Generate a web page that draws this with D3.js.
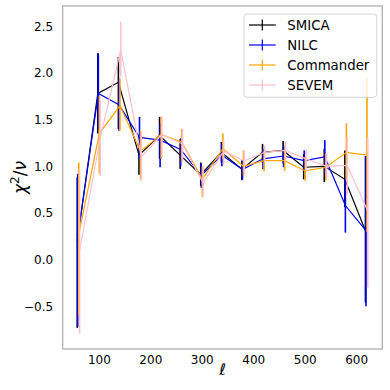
<!DOCTYPE html>
<html><head><meta charset="utf-8">
<script src="https://cdn.jsdelivr.net/npm/d3@7"></script>
<style>body{margin:0;background:#fff}svg{display:block}text{font-family:"DejaVu Sans",sans-serif}</style>
</head><body><svg id="c" width="390" height="390"></svg>
<script>
const ell = [58, 98, 138, 178, 218, 258, 298, 338, 378, 418, 458, 498, 538, 578, 618];
const seriesNames = ["SMICA", "NILC", "Commander", "SEVEM"];
const seriesColors = ["#000000", "#0000ff", "#ffa500", "#ffc0cb"];
const ellOffset = [0, 1, 3, 4.5];
const smicaVal = [0.20, 1.78, 1.90, 1.12, 1.33, 1.12, 0.91, 1.15, 0.97, 1.15, 1.17, 0.99, 1.00, 0.86, 0.31];
const smicaLo  = [-0.73, 1.35, 1.40, 0.91, 1.08, 0.97, 0.79, 1.04, 0.85, 1.04, 1.03, 0.86, 0.83, 0.56, -0.46];
const smicaHi  = [0.88, 2.21, 2.17, 1.33, 1.53, 1.29, 1.04, 1.26, 1.06, 1.24, 1.27, 1.13, 1.19, 1.17, 1.11];
const nilcVal  = [0.24, 1.78, 1.66, 1.31, 1.28, 1.18, 0.90, 1.12, 0.965, 1.08, 1.11, 1.06, 1.10, 0.58, 0.31];
const nilcLo   = [-0.72, 1.40, 1.38, 1.08, 0.99, 1.00, 0.77, 1.00, 0.86, 0.97, 0.99, 0.95, 0.92, 0.29, -0.50];
const nilcHi   = [0.92, 2.21, 1.94, 1.53, 1.46, 1.30, 1.03, 1.24, 1.07, 1.18, 1.22, 1.17, 1.28, 0.87, 1.11];
const cmdVal   = [0.27, 1.35, 1.65, 1.16, 1.34, 1.26, 0.86, 1.19, 1.00, 1.06, 1.06, 0.95, 0.99, 1.15, 1.12];
const cmdLo    = [-0.59, 0.92, 1.38, 0.86, 1.08, 1.05, 0.67, 1.08, 0.90, 0.95, 0.95, 0.845, 0.85, 0.85, 0.30];
const cmdHi    = [1.04, 1.75, 1.94, 1.38, 1.53, 1.40, 1.00, 1.35, 1.17, 1.17, 1.18, 1.10, 1.14, 1.46, 1.94];
const sevVal   = [0.09, 1.30, 2.25, 1.10, 1.34, 1.24, 0.82, 1.16, 1.06, 1.15, 1.17, 1.08, 1.00, 1.01, 0.52];
const sevLo    = [-0.79, 0.90, 1.96, 0.84, 1.10, 1.06, 0.67, 1.02, 0.92, 1.05, 1.05, 0.95, 0.88, 0.70, -0.30];
const sevHi    = [0.97, 1.72, 2.55, 1.37, 1.53, 1.40, 1.00, 1.28, 1.17, 1.22, 1.27, 1.18, 1.14, 1.31, 1.31];
const xTicks = [100, 200, 300, 400, 500, 600];
const yTicks = [-0.5, 0.0, 0.5, 1.0, 1.5, 2.0, 2.5];

const vals = [smicaVal, nilcVal, cmdVal, sevVal];
const los = [smicaLo, nilcLo, cmdLo, sevLo];
const his = [smicaHi, nilcHi, cmdHi, sevHi];

const L = 62.7, R = 382.3, T = 6, B = 349;
const svg = d3.select("#c");

const allX = [], allY = [];
seriesNames.forEach((n, s) => ell.forEach((e, i) => { allX.push(e + ellOffset[s]); allY.push(los[s][i], his[s][i]); }));
const xe = d3.extent(allX), ye = d3.extent(allY);
const xm = (xe[1] - xe[0]) * 0.05, ym = (ye[1] - ye[0]) * 0.05;
const x = d3.scaleLinear().domain([xe[0] - xm, xe[1] + xm]).range([L, R]);
const y = d3.scaleLinear().domain([ye[0] - ym, ye[1] + ym]).range([B, T]);

const fmtY = d => (d < 0 ? "\u2212" : "") + Math.abs(d).toFixed(1);

const xAxis = d3.axisBottom(x).tickValues(xTicks).tickSize(0).tickPadding(6);
const gx = svg.append("g").attr("transform", `translate(0,${B})`).call(xAxis);
gx.select(".domain").remove();
gx.selectAll("text").attr("font-size", 12).attr("fill", "#000").attr("font-family", "DejaVu Sans");

const yAxis = d3.axisLeft(y).tickValues(yTicks).tickFormat(fmtY).tickSize(0).tickPadding(9.5);
const gy = svg.append("g").attr("transform", `translate(${L},0)`).call(yAxis);
gy.select(".domain").remove();
gy.selectAll("text").attr("font-size", 12).attr("fill", "#000").attr("font-family", "DejaVu Sans");

const plot = svg.append("g");
seriesNames.forEach((n, s) => {
  const g = plot.append("g");
  const pts = ell.map((e, i) => ({ x: e + ellOffset[s], v: vals[s][i], lo: los[s][i], hi: his[s][i] }));
  g.selectAll("line").data(pts).join("line")
    .attr("x1", d => x(d.x)).attr("x2", d => x(d.x))
    .attr("y1", d => y(d.lo)).attr("y2", d => y(d.hi))
    .attr("stroke", seriesColors[s]).attr("stroke-width", 1.6);
  g.append("path").datum(pts)
    .attr("d", d3.line().x(d => x(d.x)).y(d => y(d.v)))
    .attr("fill", "none").attr("stroke", seriesColors[s]).attr("stroke-width", 1.2);
});

svg.append("rect").attr("x", L).attr("y", T).attr("width", R - L).attr("height", B - T)
  .attr("fill", "none").attr("stroke", "#b0b0b0").attr("stroke-width", 1.3);

// legend
const lg = svg.append("g");
lg.append("rect").attr("x", 244).attr("y", 14).attr("width", 132.7).attr("height", 83.3)
  .attr("rx", 3).attr("fill", "#fff").attr("fill-opacity", 0.8).attr("stroke", "#d5d5d5").attr("stroke-width", 1);
seriesNames.forEach((n, s) => {
  const cy = 25 + s * 20;
  lg.append("line").attr("x1", 249).attr("x2", 275.7).attr("y1", cy).attr("y2", cy)
    .attr("stroke", seriesColors[s]).attr("stroke-width", 1.2);
  lg.append("line").attr("x1", 262.3).attr("x2", 262.3).attr("y1", cy - 5.5).attr("y2", cy + 5.5)
    .attr("stroke", seriesColors[s]).attr("stroke-width", 1.2);
  lg.append("text").attr("x", 287.3).attr("y", cy).attr("dy", "0.36em")
    .attr("font-size", 13.3).attr("fill", "#000").text(n);
});

// axis labels
svg.append("text").attr("x", (L + R) / 2).attr("y", 375).attr("text-anchor", "middle")
  .attr("font-size", 16).attr("font-style", "italic").text("\u2113");
const yl = svg.append("text").attr("transform", `translate(26,${(T + B) / 2}) rotate(-90)`)
  .attr("text-anchor", "middle").attr("font-size", 17);
yl.append("tspan").attr("font-style", "italic").text("\u03c7");
yl.append("tspan").attr("font-size", 12).attr("dy", -7).text("2");
yl.append("tspan").attr("dy", 7).text("/");
yl.append("tspan").attr("font-style", "italic").text("\u03bd");
</script></body></html>
